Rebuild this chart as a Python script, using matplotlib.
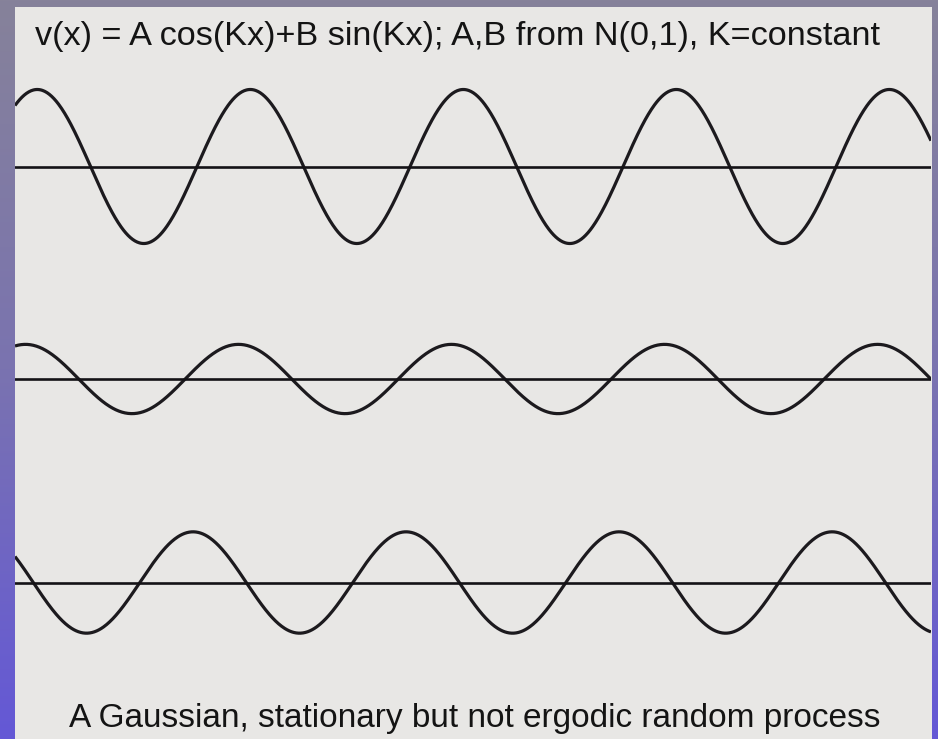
import numpy as np
import matplotlib
matplotlib.use("Agg")
import matplotlib.pyplot as plt
from matplotlib.patches import Rectangle
from matplotlib.colors import LinearSegmentedColormap

plt.rcParams['font.family'] = ['Liberation Sans', 'DejaVu Sans']

# Three realisations of v(x) = A cos(Kx) + B sin(Kx)
A_vals = [1.22, 0.66, 0.52]
B_vals = [0.94, 0.21, -0.87]
K = 2 * np.pi          # one period per x unit
x_max = 4.3            # about 4.3 periods across the panel

title_text = "v(x) = A cos(Kx)+B sin(Kx); A,B from N(0,1), K=constant"
caption_text = "A Gaussian, stationary but not ergodic random process"

W, H = 938, 739
fig = plt.figure(figsize=(W / 100, H / 100), dpi=100)

# purple/blue slide background
bg = fig.add_axes([0, 0, 1, 1])
cmap = LinearSegmentedColormap.from_list("slide", ["#86829a", "#7a73b0", "#6458d6"])
grad = np.linspace(0, 1, 256).reshape(-1, 1)
bg.imshow(grad, aspect="auto", cmap=cmap, extent=[0, 1, 0, 1], origin="upper")
bg.set_xlim(0, 1)
bg.set_ylim(0, 1)
bg.axis("off")

# light slide panel
px_left, px_right, px_top = 15, 932, 7
bg.add_patch(Rectangle((px_left / W, 0), (px_right - px_left) / W, (H - px_top) / H,
                       facecolor="#e8e7e5", edgecolor="none"))

# one axes per realisation, baseline in pixels from the top
baselines = [166.5, 379, 582.5]
unit_px = 50.0
half_h = 2.0
x = np.linspace(0, x_max, 1200)

for A, B, yb in zip(A_vals, B_vals, baselines):
    top = yb - half_h * unit_px
    ax = fig.add_axes([px_left / W, (H - top - 2 * half_h * unit_px) / H,
                       (px_right - 1 - px_left) / W, 2 * half_h * unit_px / H])
    ax.patch.set_alpha(0)
    v = A * np.cos(K * x) + B * np.sin(K * x)
    ax.plot(x, v, color="#1c1a1e", lw=2.3, solid_capstyle="butt")
    ax.axhline(0, color="#141216", lw=1.9)
    ax.set_xlim(0, x_max)
    ax.set_ylim(-half_h, half_h)
    ax.axis("off")

fig.text(457 / W, 1 - 36 / H, title_text, ha="center", va="center",
         fontsize=24.7, color="#141414")
fig.text(475 / W, 1 - 718 / H, caption_text, ha="center", va="center",
         fontsize=24, color="#141414")

fig.savefig("out.png", dpi=100)
